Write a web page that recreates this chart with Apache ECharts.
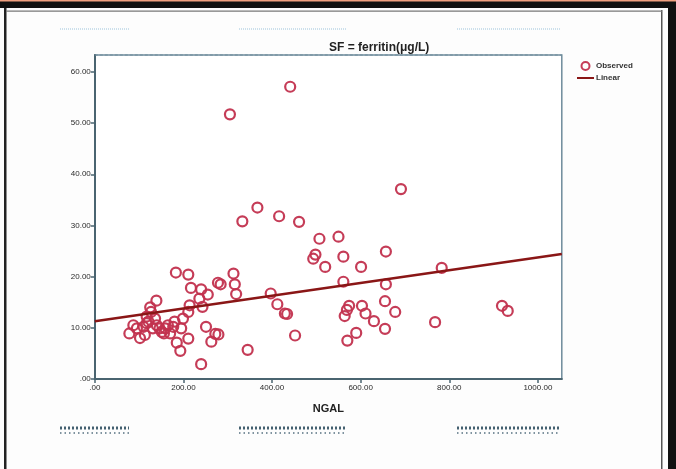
<!DOCTYPE html>
<html>
<head>
<meta charset="utf-8">
<script src="https://cdn.jsdelivr.net/npm/echarts@6/dist/echarts.min.js"></script>
<style>html,body{margin:0;padding:0;background:#fff;}#c{width:676px;height:469px;}</style>
</head>
<body>
<div id="c"></div>
<script>
// NGAL (x) vs SF (y) observed points
var ngal = [441,305,691,367,416,333,461,507,550,657,498,493,561,520,601,783,
  183,211,313,217,240,255,278,284,316,319,561,657,397,412,429,434,236,214,211,243,139,125,655,574,603,569,611,564,678,919,932,630,655,768,590,570,452,
  251,272,279,263,345,240,193,185,211,195,199,
  78,95,102,117,131,136,146,156,165,170,180,127,87,110,121,140,151,113,159,177,117];
var sf = [57.1,51.7,37.1,33.5,31.8,30.8,30.7,27.4,27.8,24.9,24.3,23.5,23.9,21.9,21.9,21.7,
  20.8,20.4,20.6,17.8,17.5,16.5,18.8,18.5,18.5,16.6,19.0,18.5,16.7,14.6,12.8,12.7,15.7,14.4,13.1,14.1,15.3,14.0,15.2,14.3,14.3,13.5,12.8,12.3,13.1,14.3,13.3,11.3,9.8,11.1,9.0,7.5,8.5,
  10.2,8.8,8.7,7.3,5.7,2.9,5.5,7.1,7.9,9.9,11.8,
  8.9,9.9,8.0,10.9,9.9,11.8,9.9,8.9,10.5,8.9,11.2,13.1,10.5,10.2,11.2,10.5,9.2,8.6,9.9,10.2,12.2];
// Linear fit line endpoints
var fitX = [0, 1054];
var fitY = [11.3, 24.4];
// Tick values / labels
var xTicks = [0, 200, 400, 600, 800, 1000];
var xTickLabels = ['.00', '200.00', '400.00', '600.00', '800.00', '1000.00'];
var yTicks = [0, 10, 20, 30, 40, 50, 60];
var yTickLabels = ['.00', '10.00', '20.00', '30.00', '40.00', '50.00', '60.00'];

var points = ngal.map(function (x, i) { return [x, sf[i]]; });
var fitLine = fitX.map(function (x, i) { return [x, fitY[i]]; });

var chart = echarts.init(document.getElementById('c'), null, {renderer: 'canvas'});
var axisColor = '#4a6470';
var frameG = [
  {type: 'rect', shape: {x: 0, y: 0, width: 676, height: 8}, style: {fill: '#111'}, z: 10},
  {type: 'rect', shape: {x: 0, y: 0, width: 676, height: 1.5}, style: {fill: '#f0a080'}, z: 11},
  {type: 'rect', shape: {x: 4, y: 8, width: 2.5, height: 461}, style: {fill: '#222'}, z: 10},
  {type: 'rect', shape: {x: 668, y: 0, width: 8, height: 469}, style: {fill: '#111'}, z: 10},
  {type: 'rect', shape: {x: 661, y: 10, width: 1.5, height: 459}, style: {fill: '#555'}, z: 10},
  {type: 'rect', shape: {x: 6, y: 10.5, width: 656, height: 1.2}, style: {fill: '#777'}, z: 10},
  {type: 'line', shape: {x1: 60, y1: 29, x2: 129, y2: 29}, style: {stroke: '#9cc4dc', lineWidth: 1, lineDash: [1, 1]}},
  {type: 'line', shape: {x1: 239, y1: 29, x2: 347, y2: 29}, style: {stroke: '#9cc4dc', lineWidth: 1, lineDash: [1, 1]}},
  {type: 'line', shape: {x1: 457, y1: 29, x2: 560, y2: 29}, style: {stroke: '#9cc4dc', lineWidth: 1, lineDash: [1, 1]}},
  {type: 'line', shape: {x1: 60, y1: 428, x2: 129, y2: 428}, style: {stroke: '#446070', lineWidth: 3, lineDash: [2, 2]}},
  {type: 'line', shape: {x1: 239, y1: 428, x2: 347, y2: 428}, style: {stroke: '#446070', lineWidth: 3, lineDash: [2, 2]}},
  {type: 'line', shape: {x1: 457, y1: 428, x2: 560, y2: 428}, style: {stroke: '#446070', lineWidth: 3, lineDash: [2, 2]}},
  {type: 'line', shape: {x1: 60, y1: 433, x2: 129, y2: 433}, style: {stroke: '#557080', lineWidth: 1.5, lineDash: [1.5, 3]}},
  {type: 'line', shape: {x1: 239, y1: 433, x2: 347, y2: 433}, style: {stroke: '#557080', lineWidth: 1.5, lineDash: [1.5, 3]}},
  {type: 'line', shape: {x1: 457, y1: 433, x2: 560, y2: 433}, style: {stroke: '#557080', lineWidth: 1.5, lineDash: [1.5, 3]}},
  {type: 'line', shape: {x1: 94.8, y1: 55, x2: 562, y2: 55}, style: {stroke: '#6f8c9c', lineWidth: 1.2, lineDash: [3, 2]}, z: 5}
];

chart.setOption({
  animation: false,
  backgroundColor: '#fdfdfd',
  title: {
    text: 'SF = ferritin(μg/L)', left: 324, top: 37,
    textStyle: {fontFamily: 'Liberation Sans', fontSize: 12, fontWeight: 'bold', color: '#222'}
  },
  legend: {
    orient: 'vertical', left: 572, top: 56, itemGap: 3, itemWidth: 17, itemHeight: 8,
    textStyle: {fontFamily: 'Liberation Sans', fontSize: 8, fontWeight: 'bold', color: '#333', padding: [0, 0, 0, -3]},
    data: [
      {name: 'Observed'},
      {name: 'Linear', icon: 'path://M0,0 L0,0 M0,6 L34,6 L34,10 L0,10 Z M34,16 L34,16', itemStyle: {color: '#8a1616'}}
    ]
  },
  grid: {left: 94.8, right: 114.2, top: 55, bottom: 90, show: true, borderColor: '#6f8c9c', borderWidth: 1.5, backgroundColor: '#fff'},
  xAxis: {
    type: 'value', min: 0, max: 1054, interval: 200,
    name: 'NGAL', nameLocation: 'middle', nameGap: 24,
    nameTextStyle: {fontFamily: 'Liberation Sans', fontSize: 11, fontWeight: 'bold', color: '#222'},
    axisLine: {show: true, lineStyle: {color: axisColor, width: 2}},
    axisTick: {show: true, length: 4, lineStyle: {color: axisColor, width: 1.5}, customValues: xTicks},
    axisLabel: {
      fontFamily: 'Liberation Sans', fontSize: 8, color: '#2a2a2a', margin: 5, customValues: xTicks,
      formatter: function (v) { var i = xTicks.indexOf(v); return i >= 0 ? xTickLabels[i] : ''; }
    },
    splitLine: {show: false}
  },
  yAxis: {
    type: 'value', min: 0, max: 63.3, interval: 10,
    axisLine: {show: true, lineStyle: {color: axisColor, width: 2}},
    axisTick: {show: true, length: 4, lineStyle: {color: axisColor, width: 1.5}, customValues: yTicks},
    axisLabel: {
      fontFamily: 'Liberation Sans', fontSize: 8, color: '#2a2a2a', margin: 4, customValues: yTicks,
      formatter: function (v) { var i = yTicks.indexOf(v); return i >= 0 ? yTickLabels[i] : ''; }
    },
    splitLine: {show: false}
  },
  graphic: frameG,
  series: [
    {
      name: 'Observed', type: 'scatter', data: points, symbol: 'circle', symbolSize: 10,
      itemStyle: {color: 'rgba(255,255,255,0)', borderColor: '#c2324e', borderWidth: 2.2, opacity: 0.95}
    },
    {
      name: 'Linear', type: 'line', data: fitLine, symbol: 'none',
      itemStyle: {color: '#8a1616'},
      lineStyle: {color: '#8a1616', width: 2.5}, z: 3
    }
  ]
});
</script>
</body>
</html>
